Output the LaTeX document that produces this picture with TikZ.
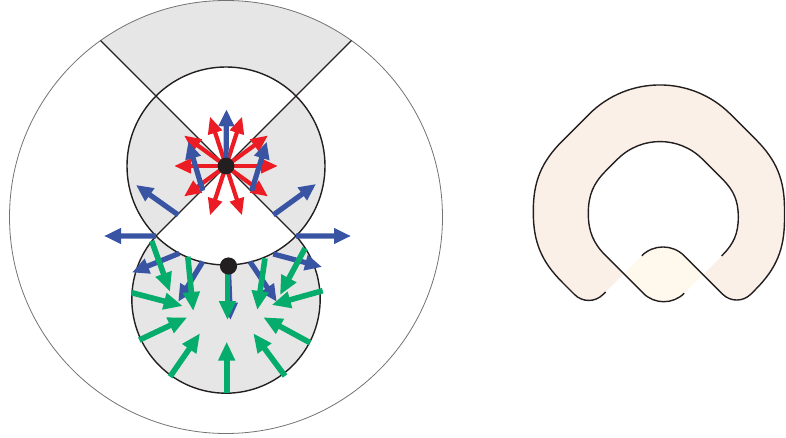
\documentclass[tikz,border=0pt]{standalone}
\usetikzlibrary{arrows.meta,calc}
\definecolor{rd}{HTML}{EC1C24}
\definecolor{bl}{HTML}{3A54A4}
\definecolor{gn}{HTML}{05AC6C}
\definecolor{lg}{HTML}{E6E6E6}
\definecolor{peach}{HTML}{FBF0E7}
\definecolor{cream}{HTML}{FFF8EC}
\definecolor{ink}{HTML}{231F20}
\begin{document}
\begin{tikzpicture}[x=1pt,y=-1pt,
  redarrow/.style={rd, line width=4.2pt, -{Triangle[width=14pt,length=17pt]}},
  bluearrow/.style={bl, line width=5.2pt, -{Triangle[width=15pt,length=17pt]}},
  greenarrow/.style={gn, line width=5.6pt, -{Triangle[width=16pt,length=19pt]}},
  outline/.style={ink, line width=1.4pt, line join=round},
  rim/.style={gray!90!black, line width=0.8pt},
  dot/.style={fill=ink},
]
\useasboundingbox (0,0) rectangle (786,438);
\coordinate (c0) at (226,217);
\coordinate (c1) at (226,166);
\coordinate (c2) at (226,299);
\coordinate (A) at (100.55,40.55);
\coordinate (B) at (351.45,40.55);
\coordinate (P45) at ($(c1)+(-45:99)$);
\coordinate (P135) at ($(c1)+(-135:99)$);
\coordinate (Q1) at ($(c1)+(135:99)$);
\coordinate (Q2) at ($(c1)+(45:99)$);
% grey regions
\fill[lg] (A) arc[start angle=-125.41, end angle=-54.59, radius=216.5] -- (P45)
  arc[start angle=-45, end angle=-135, radius=99] -- cycle;
\fill[lg] (c1) -- (P135) arc[start angle=-135, end angle=-225, radius=99] -- cycle;
\fill[lg] (c1) -- (Q2) arc[start angle=45, end angle=-45, radius=99] -- cycle;
\fill[lg] (Q1) arc[start angle=-138, end angle=-402, radius=94.18]
  arc[start angle=45, end angle=135, radius=99] -- cycle;
% outlines
\draw[rim] (c0) circle[radius=216.5];
\draw[outline] (c1) circle[radius=99];
\draw[outline] (Q1) arc[start angle=-138, end angle=-402, radius=94.18];
\draw[outline] (A) -- (Q2);
\draw[outline] (B) -- (Q1);
% red star
\foreach \a in {0,36,72,108,144,180,216,252,288,324}
  \draw[redarrow] (c1) -- ++(\a:52);
% blue arrows
\draw[bluearrow] (c1) -- (226.5,109.3);
\draw[bluearrow] (202.7,190.7) -- (188.3,141.7);
\draw[bluearrow] (251.7,190.7) -- (266.7,141.7);
\draw[bluearrow] (178.3,215) -- (136,185);
\draw[bluearrow] (273.3,215) -- (316,184);
\draw[bluearrow] (Q1) -- (104,236);
\draw[bluearrow] (Q2) -- (351,236);
\draw[bluearrow] (179.3,253.3) -- (132,272.5);
\draw[bluearrow] (202.7,261.7) -- (178.3,301.7);
\draw[bluearrow] (228.5,270) -- (230.5,320);
\draw[bluearrow] (250,261.7) -- (276.7,301.7);
\draw[bluearrow] (273.3,254) -- (322,267);
% green arrows
\draw[greenarrow] (226.7,393.3) -- (226.7,341.7);
\draw[greenarrow] (170,376.7) -- (200,333.3);
\draw[greenarrow] (285,376) -- (253.3,333.3);
\draw[greenarrow] (139.3,340) -- (187.3,317.3);
\draw[greenarrow] (310,342.7) -- (263.3,317.3);
\draw[greenarrow] (131.7,292.7) -- (182.7,306);
\draw[greenarrow] (322.7,290.7) -- (271.7,305);
\draw[greenarrow] (151.7,241) -- (170,291.7);
\draw[greenarrow] (305,248.3) -- (280,295);
\draw[greenarrow] (187.8,256.7) -- (193.3,311);
\draw[greenarrow] (265,258.3) -- (257.3,310);
\draw[greenarrow] (227.5,274) -- (227.5,320);
% dots
\fill[dot] (c1) circle[radius=8.4];
\fill[dot] (228.5,266) circle[radius=8.6];
% right figure: band with crossing
\def\outpath{(605.5,292) -- (602.9,294.6)
  to[out=225,in=315] (574.6,294.6) -- (562.3,282.3)
  to[out=135,in=270] (533.3,212.3) -- (533.3,211)
  to[out=90,in=225] (562.3,141) -- (589.1,114.2)
  to[out=45,in=135] (730.5,114.2) -- (755.7,139.4)
  to[out=315,in=90] (784.5,209.2) -- (784.5,219.2)
  to[out=270,in=45] (755.4,289.6) -- (750.8,294.2)
  to[out=225,in=315] (722.6,294.2) -- (684.2,255.75)
  to[out=135,in=45] (641.75,255.75)}
\def\inpath{(721.5,256) -- (722.7,254.8)
  to[out=45,in=270] (738.3,217.1)
  to[out=90,in=315] (722.7,179.4) -- (702.4,159.1)
  to[out=135,in=45] (617.6,159.1) -- (605.9,170.8)
  to[out=225,in=90] (588.3,213.3)
  to[out=270,in=135] (605.9,255.9) -- (643.25,293.25)
  to[out=315,in=225] (684.25,293.25)}
\fill[peach] \outpath -- cycle;
\fill[cream] \inpath -- cycle;
\begin{scope}
  \clip \outpath -- cycle;
  \fill[white] \inpath -- cycle;
\end{scope}
\draw[outline] \outpath;
\draw[outline] \inpath;
\end{tikzpicture}
\end{document}
